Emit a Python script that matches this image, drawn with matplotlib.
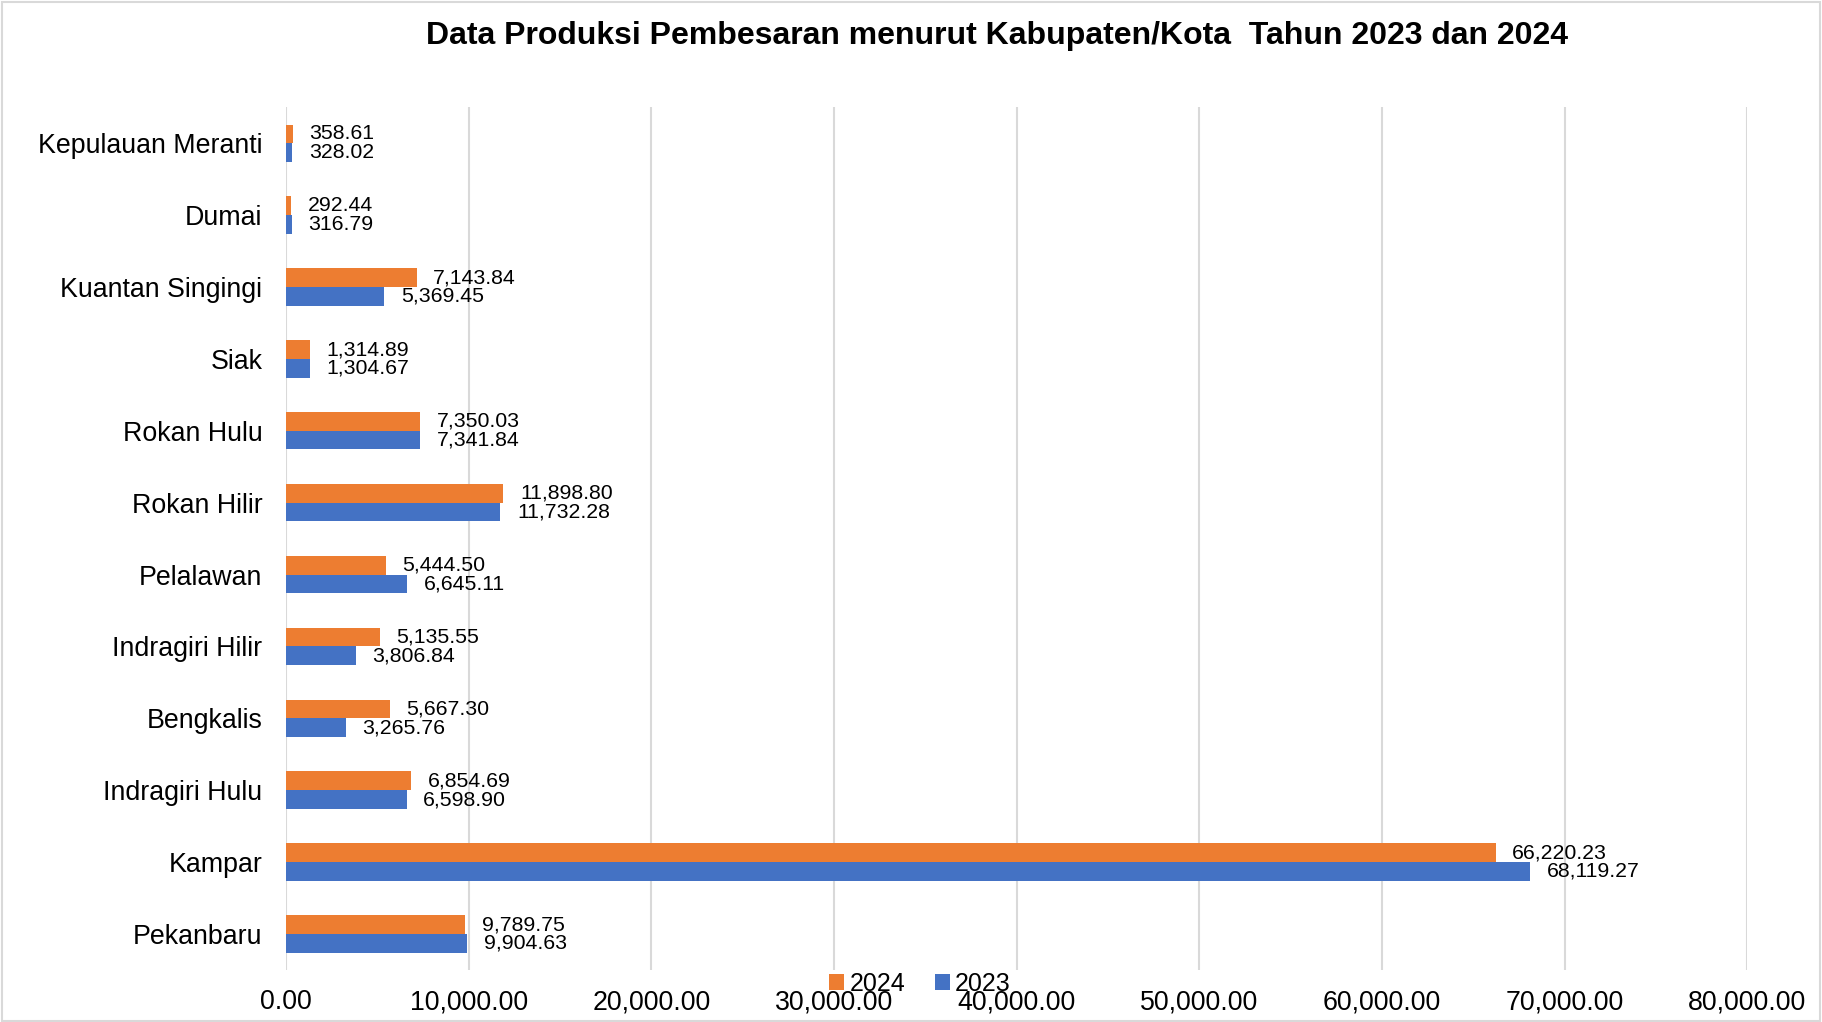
import matplotlib
matplotlib.use("Agg")
import matplotlib.pyplot as plt
from matplotlib.patches import Rectangle

plt.rcParams['font.family'] = ['Liberation Sans', 'DejaVu Sans']

# data (top to bottom as shown)
kabupaten = ["Kepulauan Meranti", "Dumai", "Kuantan Singingi", "Siak", "Rokan Hulu",
             "Rokan Hilir", "Pelalawan", "Indragiri Hilir", "Bengkalis", "Indragiri Hulu",
             "Kampar", "Pekanbaru"]
prod_2024 = [358.61, 292.44, 7143.84, 1314.89, 7350.03, 11898.80, 5444.50, 5135.55,
             5667.30, 6854.69, 66220.23, 9789.75]
prod_2023 = [328.02, 316.79, 5369.45, 1304.67, 7341.84, 11732.28, 6645.11, 3806.84,
             3265.76, 6598.90, 68119.27, 9904.63]
xticks = [0, 10000, 20000, 30000, 40000, 50000, 60000, 70000, 80000]

ORANGE = '#ED7D31'
BLUE = '#4472C4'

fig = plt.figure(figsize=(18.22, 10.22), dpi=100)
ax = fig.add_axes([0.157, 0.051, 0.802, 0.844])

n = len(kabupaten)
ypos = [n - 1 - i for i in range(n)]  # first category at top
h = 0.26
y24 = [y + h / 2 for y in ypos]
y23 = [y - h / 2 for y in ypos]

b24 = ax.barh(y24, prod_2024, height=h, color=ORANGE, label='2024', zorder=3)
b23 = ax.barh(y23, prod_2023, height=h, color=BLUE, label='2023', zorder=3)

for bars, vals in ((b24, prod_2024), (b23, prod_2023)):
    for b, v in zip(bars, vals):
        ax.annotate(f"{v:,.2f}", (b.get_width(), b.get_y() + b.get_height() / 2),
                    xytext=(12, 0), textcoords='offset points',
                    ha='left', va='center', fontsize=15.3, color='black', zorder=4)

ax.set_xlim(0, 80000)
ax.set_ylim(-0.5, n - 0.5)
ax.set_xticks(xticks)
ax.set_xticklabels([f"{t:,.2f}" for t in xticks], fontsize=19.3)
ax.set_yticks(ypos)
ax.set_yticklabels(kabupaten, fontsize=19.3)
ax.tick_params(axis='both', length=0)
ax.tick_params(axis='x', pad=14)
ax.tick_params(axis='y', pad=17)
ax.grid(axis='x', color='#D9D9D9', linewidth=1.5, zorder=0)
for s in ax.spines.values():
    s.set_visible(False)

fig.suptitle("Data Produksi Pembesaran menurut Kabupaten/Kota  Tahun 2023 dan 2024",
             x=0.547, y=0.979, fontsize=23, fontweight='bold')

fig.legend(handles=[b24, b23], labels=['2024', '2023'], loc='center',
           bbox_to_anchor=(0.505, 0.037), ncol=2, frameon=False, fontsize=18,
           handlelength=0.6, handleheight=0.6, handletextpad=0.2, columnspacing=1.2)

# light border around the chart
fig.patches.append(Rectangle((0.001, 0.001), 0.998, 0.997, transform=fig.transFigure,
                             fill=False, edgecolor='#D9D9D9', linewidth=1.5))

fig.savefig("out.png", dpi=100)
